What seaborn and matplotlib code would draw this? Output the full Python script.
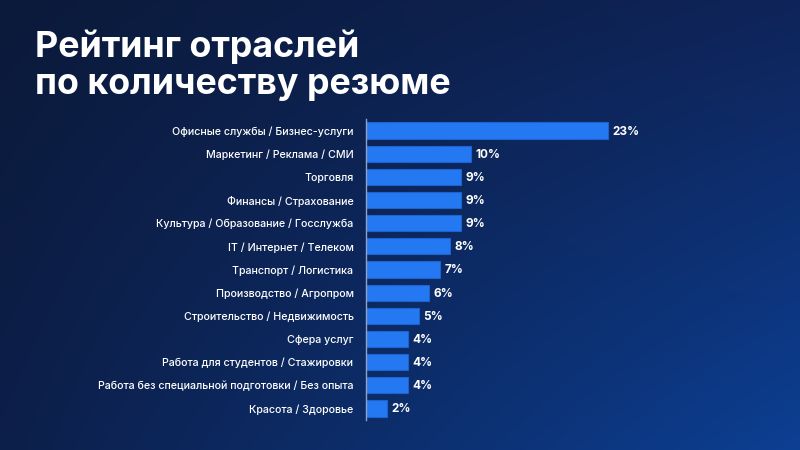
import numpy as np
import pandas as pd
import matplotlib
matplotlib.use("Agg")
import matplotlib.pyplot as plt
import seaborn as sns

title = "Рейтинг отраслей\nпо количеству резюме"
categories = [
    "Офисные службы / Бизнес-услуги",
    "Маркетинг / Реклама / СМИ",
    "Торговля",
    "Финансы / Страхование",
    "Культура / Образование / Госслужба",
    "IT / Интернет / Телеком",
    "Транспорт / Логистика",
    "Производство / Агропром",
    "Строительство / Недвижимость",
    "Сфера услуг",
    "Работа для студентов / Стажировки",
    "Работа без специальной подготовки / Без опыта",
    "Красота / Здоровье",
]
values = [23, 10, 9, 9, 9, 8, 7, 6, 5, 4, 4, 4, 2]
value_labels = ["23%", "10%", "9%", "9%", "9%", "8%", "7%", "6%", "5%", "4%", "4%", "4%", "2%"]

sns.set_theme(style="white")
plt.rcParams["font.family"] = ["Inter", "DejaVu Sans"]

fig = plt.figure(figsize=(8, 4.5), dpi=100)

# background gradient
bg = fig.add_axes([0, 0, 1, 1], zorder=0)
H, W = 225, 400
yy, xx = np.mgrid[0:1:H * 1j, 0:1:W * 1j]
tl = np.array([0x0b, 0x1a, 0x3a]) / 255
tr = np.array([0x0f, 0x24, 0x59]) / 255
bl = np.array([0x0d, 0x1f, 0x4a]) / 255
br = np.array([0x0c, 0x3f, 0x93]) / 255
img = (tl[None, None] * ((1 - xx) * (1 - yy))[..., None]
       + tr[None, None] * (xx * (1 - yy))[..., None]
       + bl[None, None] * ((1 - xx) * yy)[..., None]
       + br[None, None] * (xx * yy)[..., None])
bg.imshow(np.clip(img, 0, 1), aspect="auto", extent=[0, 1, 0, 1], interpolation="bilinear")
bg.set_axis_off()

fig.text(35 / 800, 1 - 30 / 450, title, color="white", fontsize=25.8, fontweight="bold",
         va="top", ha="left", linespacing=1.12)

ax = fig.add_axes([366 / 800, 1 - 420 / 450, 400 / 800, 301 / 450], zorder=1)
ax.patch.set_alpha(0)
df = pd.DataFrame({"cat": categories, "val": values})
sns.barplot(data=df, y="cat", x="val", orient="h", color="#2479f2", saturation=1,
            width=0.7, edgecolor="#1d62cf", linewidth=0.8, ax=ax)
ax.set_xlim(0, 400 / 10.5)
ax.set_ylim(12.5, -0.5)
ax.set_xlabel("")
ax.set_ylabel("")
ax.set_xticks([])
ax.tick_params(axis="y", length=0, pad=9, labelsize=7.7, labelcolor="white")
for lab in ax.get_yticklabels():
    lab.set_fontweight("medium")
for s in ["top", "right", "bottom"]:
    ax.spines[s].set_visible(False)
ax.spines["left"].set_color("#8fa3c8")
ax.spines["left"].set_linewidth(1)

for i, (v, t) in enumerate(zip(values, value_labels)):
    ax.text(v + 0.45, i + 0.04, t, color="white", fontsize=8.5, fontweight="bold",
            va="center", ha="left")

fig.savefig("out.png", dpi=100)
